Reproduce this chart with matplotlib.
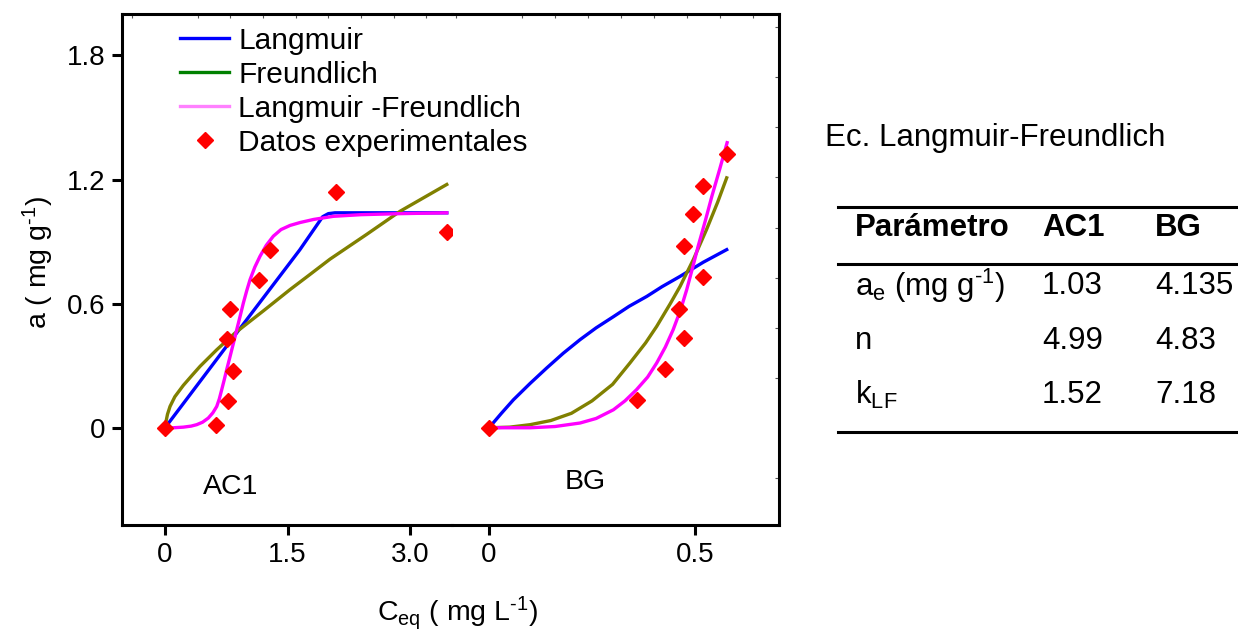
import matplotlib
matplotlib.use("Agg")
import matplotlib.pyplot as plt
from matplotlib.lines import Line2D
from matplotlib.ticker import MultipleLocator

plt.rcParams['font.family'] = ['Liberation Sans', 'DejaVu Sans']
plt.rcParams['mathtext.fontset'] = 'custom'
plt.rcParams['mathtext.rm'] = 'Liberation Sans'
plt.rcParams['mathtext.it'] = 'Liberation Sans'
plt.rcParams['mathtext.bf'] = 'Liberation Sans:bold'

# ---------------- data: AC1 ----------------
ac1_exp_x = [0.0, 0.62, 0.77, 0.83, 0.76, 0.79, 1.15, 1.29, 2.09, 3.45]
ac1_exp_y = [0.0, 0.011, 0.13, 0.276, 0.43, 0.574, 0.716, 0.861, 1.14, 0.947]

ac1_lang_x = [0.0, 0.88, 1.65, 1.93, 2.0, 2.08, 3.45]
ac1_lang_y = [0.0, 0.46, 0.86, 1.02, 1.035, 1.039, 1.039]

ac1_freu_x = [0.0, 0.012, 0.03, 0.061, 0.12, 0.224, 0.33, 0.429, 0.633, 0.857, 1.204, 1.531, 1.755, 2.02, 2.47, 2.88, 3.45]
ac1_freu_y = [0.0, 0.03, 0.065, 0.103, 0.15, 0.205, 0.253, 0.297, 0.377, 0.458, 0.565, 0.668, 0.735, 0.815, 0.935, 1.047, 1.176]

ac1_lf_x = [0.0, 0.1, 0.224, 0.32, 0.388, 0.46, 0.530, 0.585, 0.633, 0.665, 0.694, 0.725, 0.755, 0.787, 0.817, 0.848, 0.878, 0.92, 0.959, 1.0, 1.041,
            1.10, 1.163, 1.24, 1.326, 1.42, 1.531, 1.653, 1.82, 2.06, 2.4, 2.88, 3.45]
ac1_lf_y = [0.0, 0.0, 0.003, 0.008, 0.015, 0.027, 0.047, 0.072, 0.103, 0.14, 0.184, 0.232, 0.281, 0.33, 0.377, 0.425, 0.474, 0.54, 0.603, 0.662, 0.716,
            0.777, 0.829, 0.882, 0.926, 0.958, 0.978, 0.992, 1.007, 1.022, 1.03, 1.035, 1.039]

# ---------------- data: BG ----------------
bg_exp_x = [0.0, 0.358, 0.427, 0.473, 0.462, 0.519, 0.473, 0.496, 0.520, 0.577]
bg_exp_y = [0.0, 0.135, 0.284, 0.434, 0.576, 0.729, 0.881, 1.031, 1.168, 1.324]

bg_lang_x = [0.0, 0.03, 0.059, 0.10, 0.140, 0.18, 0.221, 0.26, 0.302, 0.34, 0.383, 0.42, 0.464, 0.52, 0.577]
bg_lang_y = [0.0, 0.07, 0.135, 0.215, 0.289, 0.36, 0.426, 0.483, 0.537, 0.587, 0.635, 0.682, 0.732, 0.80, 0.861]

bg_freu_x = [0.0, 0.05, 0.10, 0.15, 0.20, 0.25, 0.30, 0.342, 0.38, 0.407, 0.44, 0.464, 0.496, 0.528, 0.555, 0.577]
bg_freu_y = [0.0, 0.003, 0.015, 0.035, 0.07, 0.13, 0.21, 0.313, 0.41, 0.49, 0.60, 0.684, 0.813, 0.958, 1.09, 1.208]

bg_lf_x = [0.0, 0.10, 0.16, 0.221, 0.26, 0.302, 0.33, 0.358, 0.385, 0.407, 0.428, 0.447, 0.465, 0.48, 0.495, 0.508, 0.525, 0.541, 0.56, 0.578]
bg_lf_y = [0.0, 0.0, 0.006, 0.023, 0.045, 0.087, 0.13, 0.184, 0.245, 0.313, 0.39, 0.474, 0.57, 0.668, 0.78, 0.88, 1.0, 1.119, 1.25, 1.378]

# ticks
y_ticks = [0, 0.6, 1.2, 1.8]
y_ticklabels = ["0", "0.6", "1.2", "1.8"]
ac1_xticks = [0, 1.5, 3.0]
ac1_xticklabels = ["0", "1.5", "3.0"]
bg_xticks = [0, 0.5]
bg_xticklabels = ["0", "0.5"]

legend_labels = ["Langmuir", "Freundlich", "Langmuir -Freundlich", "Datos experimentales"]

# table
table_title = "Ec. Langmuir-Freundlich"
table_header = ["Parámetro", "AC1", "BG"]
table_params = [r"a$_\mathregular{e}$ (mg g$^\mathregular{\text{-}1}$)", "n", r"k$_\mathregular{LF}$"]
table_ac1 = ["1.03", "4.99", "1.52"]
table_bg = ["4.135", "4.83", "7.18"]

# ---------------- figure ----------------
W, H = 1238, 630
fig = plt.figure(figsize=(W / 100, H / 100), dpi=100)

def fx(px):
    return px / W

def fy(py):
    return 1 - py / H

ax1 = fig.add_axes([fx(122), fy(525), fx(452) - fx(122), fy(14) - fy(525)])
ax2 = fig.add_axes([fx(452), fy(525), fx(779) - fx(452), fy(14) - fy(525)])
ax1.patch.set_visible(False)
ax2.patch.set_visible(False)

BLUE = '#0000FF'
OLIVE = '#808000'
MAG = '#FF00FF'
RED = '#FF0000'
LW = 2.4
SPW = 2.2
TICKFS = 20

for ax, ex, ey, lx, ly, frx, fry, lfx, lfy in [
    (ax1, ac1_exp_x, ac1_exp_y, ac1_lang_x, ac1_lang_y, ac1_freu_x, ac1_freu_y, ac1_lf_x, ac1_lf_y),
    (ax2, bg_exp_x, bg_exp_y, bg_lang_x, bg_lang_y, bg_freu_x, bg_freu_y, bg_lf_x, bg_lf_y),
]:
    ax.plot(lx, ly, color=BLUE, lw=LW, zorder=3, solid_joinstyle='round')
    ax.plot(frx, fry, color=OLIVE, lw=LW, zorder=3, solid_joinstyle='round')
    ax.plot(lfx, lfy, color=MAG, lw=LW, zorder=4, solid_joinstyle='round')
    ax.plot(ex, ey, linestyle='none', marker='D', color=RED, ms=8, mec=RED, zorder=5)
    ax.set_ylim(-0.47, 2.0)
    for s in ax.spines.values():
        s.set_linewidth(SPW)

ax1.set_xlim(-0.527, 3.514)
ax2.set_xlim(-0.09, 0.704)

# left axes
ax1.spines['right'].set_visible(False)
ax1.set_yticks(y_ticks)
ax1.set_yticklabels(y_ticklabels)
ax1.set_xticks(ac1_xticks)
ax1.set_xticklabels(ac1_xticklabels)
ax1.xaxis.set_minor_locator(MultipleLocator(0.4))
ax1.tick_params(which='major', direction='out', length=7, width=2.2, labelsize=TICKFS, pad=5,
                left=True, right=False, top=False, bottom=True)
ax1.tick_params(which='minor', direction='in', length=3, width=0.8, color='#555555',
                left=False, right=False, top=True, bottom=False)

# right axes
ax2.spines['left'].set_visible(False)
ax2.set_yticks(y_ticks)
ax2.set_yticklabels([])
ax2.set_xticks(bg_xticks)
ax2.set_xticklabels(bg_xticklabels)
ax2.xaxis.set_minor_locator(MultipleLocator(0.08))
ax2.yaxis.set_minor_locator(MultipleLocator(0.242))
ax2.tick_params(which='major', direction='out', length=7, width=2.2, labelsize=TICKFS, pad=5,
                left=False, right=False, top=False, bottom=True)
ax2.tick_params(which='minor', direction='in', length=3, width=0.8, color='#555555',
                left=False, right=True, top=True, bottom=False)

# panel labels
ax1.text(0.80, -0.285, "AC1", fontsize=20.5, ha='center', va='center')
ax2.text(0.233, -0.26, "BG", fontsize=20.5, ha='center', va='center')

# legend
handles = [
    Line2D([], [], color=BLUE, lw=LW),
    Line2D([], [], color='#008000', lw=LW),
    Line2D([], [], color='#FF80FF', lw=LW),
    Line2D([], [], color=RED, marker='D', linestyle='none', ms=8),
]
leg = ax1.legend(handles, legend_labels, loc='upper left', bbox_to_anchor=((180 - 122) / 330, 0.975),
                 frameon=False, fontsize=21.5, handlelength=1.65, handletextpad=0.3,
                 labelspacing=0.2, borderpad=0, borderaxespad=0)
leg.set_zorder(10)

# axis labels
fig.text(fx(38), fy(262), r"a ( mg g$^\mathregular{\text{-}1}$)", rotation=90, fontsize=20.5,
         ha='center', va='center')
fig.text(fx(457), fy(594), r"C$_\mathregular{eq}$ ( mg L$^\mathregular{\text{-}1}$)", fontsize=20.5,
         ha='center', va='top')

# table
TFS = 22.5
fig.text(fx(825), fy(138), table_title, fontsize=TFS, ha='left', va='center')
for py in (207, 264, 432):
    fig.add_artist(Line2D([fx(838), fx(1238)], [fy(py), fy(py)], transform=fig.transFigure,
                          color='black', lw=2.2))
col_x = [855, 1042, 1155]
for j in range(3):
    fig.text(fx(col_x[j]), fy(228), table_header[j], fontsize=TFS, fontweight='bold', ha='left', va='center')
row_y = [286, 341, 395]
for i in range(3):
    fig.text(fx(col_x[0]), fy(row_y[i]), table_params[i], fontsize=TFS, ha='left', va='center')
    fig.text(fx(col_x[1]), fy(row_y[i]), table_ac1[i], fontsize=TFS, ha='left', va='center')
    fig.text(fx(col_x[2]), fy(row_y[i]), table_bg[i], fontsize=TFS, ha='left', va='center')

fig.savefig("out.png", dpi=100)
